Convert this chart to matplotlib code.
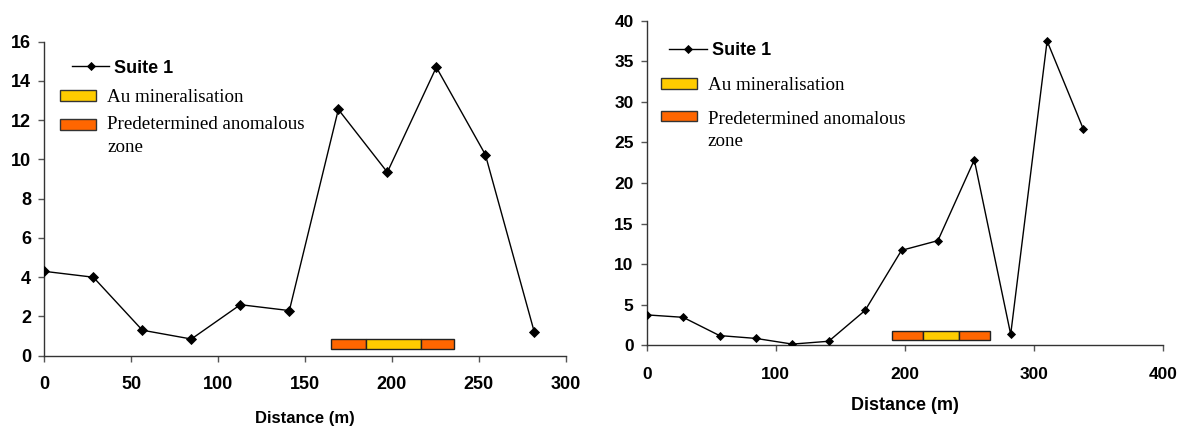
import matplotlib
matplotlib.use("Agg")
import matplotlib.pyplot as plt
from matplotlib.lines import Line2D
from matplotlib.patches import Patch, Rectangle
from matplotlib.legend_handler import HandlerPatch

# ---- data ----
dist_left = [0, 28.2, 56.4, 84.6, 112.8, 141, 169.2, 197.4, 225.6, 253.8, 282]
vals_left = [4.3, 4.0, 1.3, 0.85, 2.6, 2.3, 12.55, 9.35, 14.7, 10.25, 1.2]

dist_right = [0, 28.2, 56.4, 84.6, 112.8, 141, 169.2, 197.4, 225.6, 253.8, 282, 310.2, 338.4]
vals_right = [3.75, 3.45, 1.2, 0.85, 0.15, 0.5, 4.3, 11.7, 12.9, 22.85, 1.35, 37.5, 26.6]

# zones: (zone start, au start, au end, zone end)
zone_left = [165, 185, 217, 236]
zone_right = [190, 214, 242, 266]

series_label = "Suite 1"
au_label = "Au mineralisation"
zone_label = "Predetermined anomalous\nzone"
xlabel = "Distance (m)"

xticks_left = [0, 50, 100, 150, 200, 250, 300]
yticks_left = [0, 2, 4, 6, 8, 10, 12, 14, 16]
xticks_right = [0, 100, 200, 300, 400]
yticks_right = [0, 5, 10, 15, 20, 25, 30, 35, 40]

ORANGE = "#FF6600"
YELLOW = "#FFCC00"
SANS = "Liberation Sans"
SERIF = "Liberation Serif"
LEG_FS = 13.7
LINE_SP = 1.42


class TopAlignedPatch(HandlerPatch):
    """Patch handle aligned with the first line of a two-line label."""

    def __init__(self, shift, **kw):
        super().__init__(**kw)
        self.shift = shift

    def create_artists(self, legend, orig_handle, xdescent, ydescent,
                       width, height, fontsize, trans):
        p = Rectangle(xy=(-xdescent, -ydescent + self.shift * fontsize),
                      width=width, height=height)
        self.update_prop(p, orig_handle, legend)
        p.set_transform(trans)
        return [p]


fig = plt.figure(figsize=(11.86, 4.26), dpi=100)
ax1 = fig.add_axes([0.0374, 0.165, 0.4395, 0.737])
ax2 = fig.add_axes([0.5453, 0.1894, 0.4353, 0.7620])


def draw(ax, x, y, zone, xticks, yticks, bar_y, bar_h, ms, tick_fs, lab_fs,
         xpad, labelpad, leg1_anchor, leg2_anchor, leg2_spacing, patch_shift):
    ax.plot(x, y, color="black", lw=1.0, marker="D", ms=ms, mfc="black",
            mec="black", mew=0.6, zorder=3)
    z0, a0, a1, z1 = zone
    kw = dict(height=bar_h, edgecolor="#222222", lw=1.0, zorder=2)
    ax.barh([bar_y], [a0 - z0], left=[z0], color=ORANGE, **kw)
    ax.barh([bar_y], [a1 - a0], left=[a0], color=YELLOW, **kw)
    ax.barh([bar_y], [z1 - a1], left=[a1], color=ORANGE, **kw)
    ax.set_xlim(xticks[0], xticks[-1])
    ax.set_ylim(yticks[0], yticks[-1])
    ax.set_xticks(xticks)
    ax.set_yticks(yticks)
    for s in ("top", "right"):
        ax.spines[s].set_visible(False)
    for s in ("left", "bottom"):
        ax.spines[s].set_color("#333333")
        ax.spines[s].set_linewidth(1.0)
    ax.tick_params(axis="both", direction="out", length=4, width=1.0, color="#555555")
    ax.tick_params(axis="x", pad=xpad)
    ax.tick_params(axis="y", pad=5.5)
    for lab in ax.get_xticklabels() + ax.get_yticklabels():
        lab.set_fontfamily(SANS)
        lab.set_fontweight("bold")
        lab.set_fontsize(tick_fs)
    ax.set_xlabel(xlabel, fontfamily=SANS, fontweight="bold", fontsize=lab_fs,
                  labelpad=labelpad)
    ax.patch.set_alpha(0)

    line_handle = Line2D([0], [0], color="black", lw=1.0, marker="D", ms=ms - 0.5,
                         mfc="black", mec="black", mew=0.6)
    leg1 = ax.legend([line_handle], [series_label], loc="upper left",
                     bbox_to_anchor=leg1_anchor, frameon=False, borderpad=0,
                     borderaxespad=0, handlelength=2.08, handletextpad=0.28,
                     prop={"family": SANS, "weight": "bold", "size": 13})
    ax.add_artist(leg1)

    au_patch = Patch(facecolor=YELLOW, edgecolor="#333333", lw=1.0)
    zone_patch = Patch(facecolor=ORANGE, edgecolor="#333333", lw=1.0)
    leg2 = ax.legend([au_patch, zone_patch], [au_label, zone_label], loc="upper left",
                     bbox_to_anchor=leg2_anchor, frameon=False, borderpad=0,
                     borderaxespad=0, handlelength=1.89, handleheight=0.47,
                     handletextpad=0.58, labelspacing=leg2_spacing,
                     handler_map={zone_patch: TopAlignedPatch(patch_shift)},
                     prop={"family": SERIF, "size": LEG_FS})
    for t in leg2.get_texts():
        t.set_linespacing(LINE_SP)


draw(ax1, dist_left, vals_left, zone_left, xticks_left, yticks_left,
     0.6, 0.48, 4.8, 13, 12, 10.5, 13, (0.0526, 0.943), (0.0301, 0.848), 0.52, 0.6)
draw(ax2, dist_right, vals_right, zone_right, xticks_right, yticks_right,
     1.23, 1.15, 4.3, 12.5, 13, 11.4, 11, (0.0432, 0.933), (0.0271, 0.826), 0.86, 0.75)

fig.savefig("out.png", dpi=100)
